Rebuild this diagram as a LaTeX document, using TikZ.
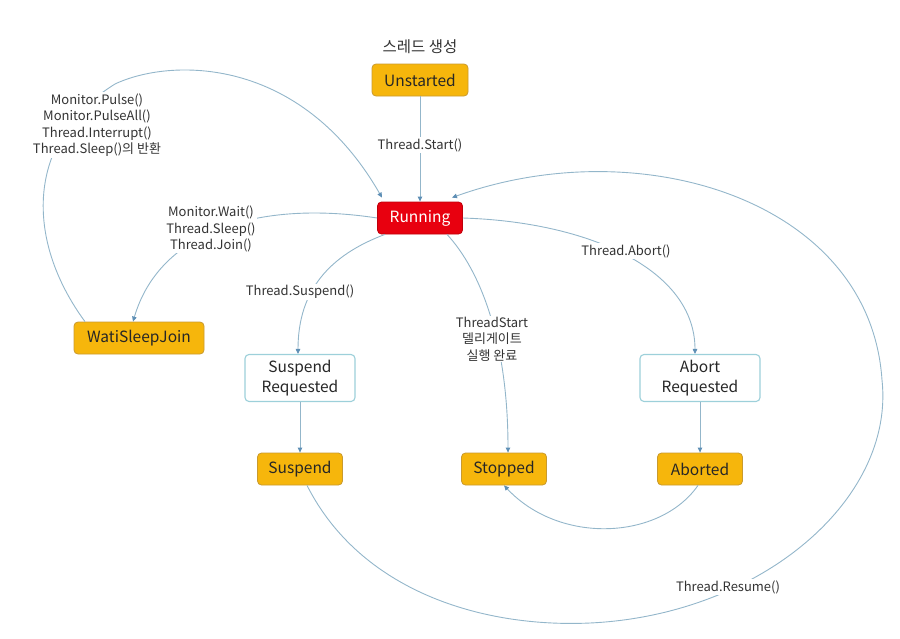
\documentclass[tikz,border=0pt]{standalone}
\usepackage{fontspec}
\setmainfont{Noto Sans CJK KR}
\usepackage{tikz}
\usetikzlibrary{positioning,calc,arrows.meta}

\definecolor{stategold}{HTML}{F6B60C}
\definecolor{stateedge}{HTML}{C99A2E}
\definecolor{runred}{HTML}{E8000F}
\definecolor{runedge}{HTML}{C0000A}
\definecolor{reqedge}{HTML}{9DD0DA}
\definecolor{linkblue}{HTML}{93B6CA}
\definecolor{tipblue}{HTML}{5E8FB5}
\definecolor{txtgray}{HTML}{333333}

\tikzset{
  state/.style={draw=stateedge, fill=stategold, rounded corners=4pt, line width=0.8pt,
    minimum width=85pt, minimum height=32pt, text=black!85, font=\fontsize{15.5}{17}\selectfont},
  runstate/.style={state, draw=runedge, fill=runred, text=white},
  reqstate/.style={state, draw=reqedge, fill=white, line width=1.1pt, minimum height=47pt,
    align=center, font=\fontsize{15.5}{20}\selectfont},
  link/.style={draw=linkblue, line width=0.9pt, -{Triangle[length=5pt,width=4.5pt,color=tipblue]}},
  lbl/.style={fill=white, inner sep=1pt, align=center, text=txtgray, font=\fontsize{13}{16.5}\selectfont}
}

\begin{document}
\begin{tikzpicture}[x=1pt, y=-1pt]
    \useasboundingbox (0,0) rectangle (900,638);

    % states
    \node[state, minimum width=96pt] (unst) at (420,80) {Unstarted};
    \node[runstate] (run) at (420,218) {Running};
    \node[state, minimum width=130pt] (wsj) at (139,338) {WatiSleepJoin};
    \node[reqstate, minimum width=110pt] (sreq) at (300,378) {Suspend\\Requested};
    \node[reqstate, minimum width=120pt] (areq) at (700,378) {Abort\\Requested};
    \node[state] (susp) at (300,469) {Suspend};
    \node[state] (stop) at (504,469) {Stopped};
    \node[state] (abrt) at (700,469) {Aborted};
    \node[text=txtgray, font=\fontsize{15.5}{17}\selectfont] (create) at (420,47) {스레드 생성};

    % transitions
    \draw[link] (unst.south) -- (run.north);
    \draw[link] ([xshift=-54pt]wsj.north) .. controls (25,240) and (25,140) .. (115,84)
        .. controls (170,58) and (300,55) .. ([xshift=-38pt,yshift=4pt]run.north);
    \draw[link] (run.west) .. controls (260,200) and (160,230) .. ([xshift=-6pt]wsj.north);
    \draw[link] ([xshift=-35pt]run.south) .. controls (330,255) and (298,290) .. ([xshift=-2pt]sreq.north);
    \draw[link] ([xshift=27pt]run.south) .. controls (480,270) and (508,340) .. ([xshift=4pt]stop.north);
    \draw[link] (run.east) .. controls (590,222) and (695,270) .. ([xshift=-5pt]areq.north);
    \draw[link] (sreq.south) -- (susp.north);
    \draw[link] (areq.south) -- (abrt.north);
    \draw[link] ([xshift=-2pt]abrt.south) .. controls (660,540) and (560,545) .. (stop.south);
    \draw[link] ([xshift=7pt]susp.south) .. controls (360,590) and (480,628) .. (590,623)
        .. controls (760,615) and (895,500) .. (882,380)
        .. controls (870,200) and (640,130) .. ([xshift=32pt,yshift=4pt]run.north);

    % labels
    \node[lbl] (start) at (420,145) {Thread.Start()};
    \node[lbl] (pulse) at (97,125) {Monitor.Pulse()\\Monitor.PulseAll()\\Thread.Interrupt()\\Thread.Sleep()의 반환};
    \node[lbl] (wait) at (211,229) {Monitor.Wait()\\Thread.Sleep()\\Thread.Join()};
    \node[lbl] (suspl) at (300,292) {Thread.Suspend()};
    \node[lbl] (done) at (492,339) {ThreadStart\\델리게이트\\실행 완료};
    \node[lbl] (abortl) at (626,251) {Thread.Abort()};
    \node[lbl] (resume) at (728,587) {Thread.Resume()};
\end{tikzpicture}
\end{document}
